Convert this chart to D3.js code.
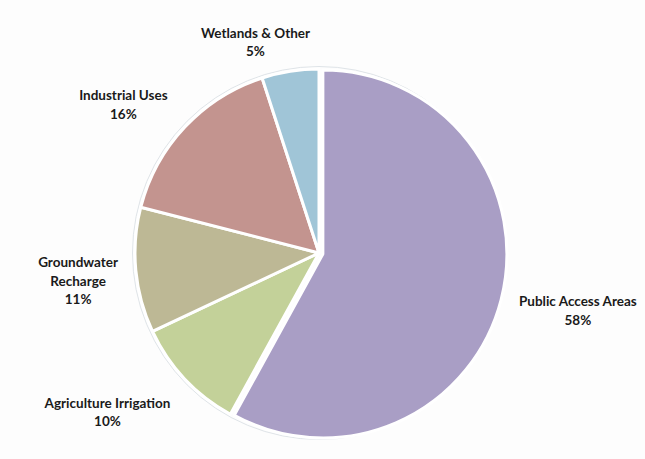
<!doctype html>
<html lang="en">
<head>
<meta charset="UTF-8">
<title>Water use pie</title>
<style>
  body { margin: 0; background: #fdfdfd; }
  svg text { font-family: Lato, "Open Sans", sans-serif; font-weight: bold; fill: #1a1a1a; }
</style>
<script src="https://cdn.jsdelivr.net/npm/d3@7"></script>
</head>
<body>
<script>
// data, clockwise from 12 o'clock
var categories = ['Public Access Areas', 'Agriculture Irrigation', 'Groundwater Recharge', 'Industrial Uses', 'Wetlands & Other'];
var labelLines = [['Public Access Areas'], ['Agriculture Irrigation'], ['Groundwater', 'Recharge'], ['Industrial Uses'], ['Wetlands & Other']];
var values = [58, 10, 11, 16, 5];
var colors = ['#a99ec5', '#c3d199', '#bdb895', '#c3948f', '#a0c5d7'];

var w = 645, h = 459;
var cx = 319, cy = 253, r = 184;
var explode = [4, 0, 0, 0, 0];
// small label nudges (Excel pushes labels around a bit)
var nudge = [[10, 4], [-21, 11], [-4, 7], [-19, 0], [-24, 3]];

var svg = d3.select('body').append('svg')
  .attr('width', w).attr('height', h);

var pie = d3.pie().sort(null).value(function(d){ return d; });
var arcs = pie(values);
var arc = d3.arc().innerRadius(0).outerRadius(r);

var g = svg.append('g').attr('transform', 'translate(' + cx + ',' + cy + ')');

// faint outer rim
g.append('circle').attr('r', r + 2.5)
  .attr('fill', 'none').attr('stroke', '#dfe4e8').attr('stroke-width', 1);

g.selectAll('path')
  .data(arcs)
  .enter()
  .append('path')
  .attr('d', arc)
  .attr('transform', function(d, i){
    var a = (d.startAngle + d.endAngle) / 2;
    return 'translate(' + (Math.sin(a) * explode[i]) + ',' + (-Math.cos(a) * explode[i]) + ')';
  })
  .attr('fill', function(d, i){ return colors[i]; })
  .attr('stroke', '#ffffff')
  .attr('stroke-width', 3)
  .attr('stroke-linejoin', 'round');

var fs = 13.5, lh = 18.5;
var labels = g.selectAll('text.lbl')
  .data(arcs)
  .enter()
  .append('text')
  .attr('class', 'lbl')
  .attr('text-anchor', 'middle')
  .attr('font-size', fs + 'px');

labels.each(function(d, i){
  var t = d3.select(this);
  var lines = labelLines[i].concat([values[i] + '%']);
  lines.forEach(function(s, k){
    t.append('tspan').attr('x', 0).attr('dy', k === 0 ? 0 : lh).text(s);
  });
  var bb = this.getBBox();
  var a = (d.startAngle + d.endAngle) / 2;
  var rr = r + 14;
  var hw = bb.width / 2, hh = lines.length * lh / 2;
  var x = Math.sin(a) * rr + Math.sin(a) * hw + nudge[i][0];
  var y = -Math.cos(a) * rr - Math.cos(a) * hh + nudge[i][1];
  // y is the block centre; first baseline sits above it
  var y0 = y - (lines.length - 1) * lh / 2 + fs * 0.35;
  t.attr('transform', 'translate(' + x + ',' + y0 + ')');
});
</script>
</body>
</html>
